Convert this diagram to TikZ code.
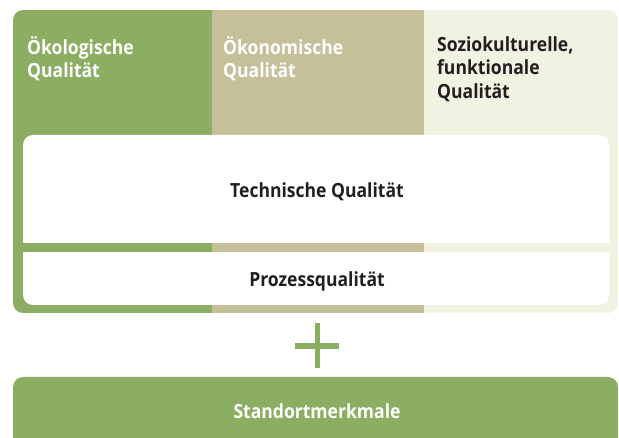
\documentclass[tikz,border=0pt]{standalone}
\usepackage{fontspec}
\setmainfont{Open Sans}[FakeStretch=0.9]
\usepackage{tikz}
\usetikzlibrary{positioning}
\definecolor{oekogreen}{HTML}{8BAE62}
\definecolor{oekotan}{HTML}{C5C09A}
\definecolor{oekocream}{HTML}{F2F2E3}
\definecolor{oekotext}{HTML}{231F20}

\begin{document}
\begin{tikzpicture}[
    x=1pt, y=-1pt,
    nosep/.style={inner sep=0},
    coltext/.style={nosep, anchor=north west, align=left,
        font=\fontsize{19.5}{23.5}\selectfont\bfseries},
    bartext/.style={nosep, text=oekotext,
        font=\fontsize{19.5}{22}\selectfont\bfseries}]
\useasboundingbox (0,0) rectangle (619,438);

% three columns in a rounded frame
\begin{scope}
\clip[rounded corners=10] (13,10) rectangle (618,313);
\fill[oekogreen] (13,10) rectangle (212,313);
\fill[oekotan]   (212,10) rectangle (424,313);
\fill[oekocream] (424,10) rectangle (618,313);
\end{scope}

% white bars
\fill[white, rounded corners=10] (23,135) rectangle (609,262);
\fill[white, rounded corners=10] (23,232) rectangle (609,305);
\fill[oekogreen] (13,243) rectangle (212,252);
\fill[oekotan]   (212,243) rectangle (424,252);
\fill[oekocream] (424,243) rectangle (618,252);

\node[coltext, text=white]    (oeko)  at (27,36)  {Ökologische\\Qualität};
\node[coltext, text=white]    (oekon) at (223,36) {Ökonomische\\Qualität};
\node[coltext, text=oekotext] (sozio) at (437,36) {Soziokulturelle,\\funktionale\\Qualität};

\node[bartext] (technik) at (317,192) {Technische Qualität};
\node[bartext] (prozess) at (317,281) {Prozessqualität};

% plus
\draw[oekogreen, line width=5.5] (317.5,323) -- (317.5,368)
    (295,346) -- (339,346);

% site
\fill[oekogreen, rounded corners=10] (13,377) rectangle (618,460);
\node[bartext, text=white] (standort) at (317,411) {Standortmerkmale};

\end{tikzpicture}
\end{document}
